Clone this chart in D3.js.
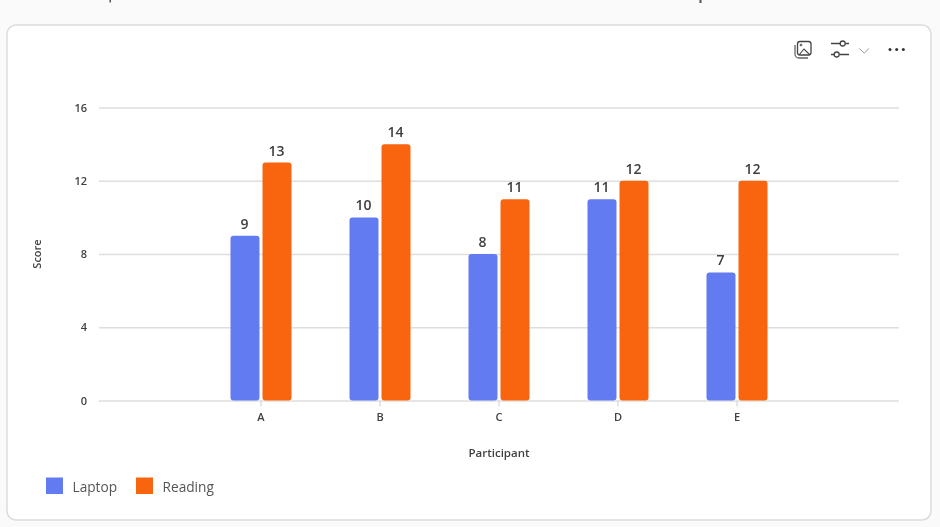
<!DOCTYPE html>
<html><head><meta charset="utf-8">
<script src="https://cdn.jsdelivr.net/npm/d3@7/dist/d3.min.js"></script>
<style>html,body{margin:0;padding:0;background:#fafafa;overflow:hidden}svg{display:block;filter:blur(0.35px)}text{font-family:"Open Sans","Noto Sans",sans-serif}</style>
</head><body><svg id="c" width="940" height="527"></svg>
<script>
const categories = ["A","B","C","D","E"];
const seriesNames = ["Laptop","Reading"];
const laptop = [9,10,8,11,7];
const reading = [13,14,11,12,12];
const yTicks = [0,4,8,12,16];
const colors = ["#637bf0","#f9640e"];
const textColor = "#3f3f3f";

const svg = d3.select("#c");
// clipped text remnants above the card
svg.append("rect").attr("x",109.5).attr("y",0).attr("width",1.5).attr("height",2.5).attr("fill","#555");
svg.append("rect").attr("x",699.5).attr("y",0).attr("width",2).attr("height",3).attr("fill","#555");
// card
svg.append("rect").attr("x",7).attr("y",25).attr("width",924).attr("height",495).attr("rx",9)
  .attr("fill","#fff").attr("stroke","#dcdcdc").attr("stroke-width",1.5);

const x = d3.scaleBand().domain(categories).range([201.5,796.5]);
const xs = d3.scaleBand().domain(seriesNames).range([0,x.bandwidth()]).paddingInner(0.094).paddingOuter(0.906);
const y = d3.scaleLinear().domain([0,16]).range([400.6,107.6]);

// gridlines and y labels
const yAxis = d3.axisLeft(y).tickValues(yTicks).tickSize(0).tickPadding(12);
const gy = svg.append("g").attr("transform","translate(99,0)").call(yAxis);
gy.select(".domain").remove();
gy.selectAll(".tick text").attr("font-size",11).attr("font-weight",600).attr("fill",textColor);
gy.selectAll(".tick").append("line").attr("x1",0).attr("x2",800).attr("stroke","#dedede").attr("stroke-width",1.5);

// x axis
const xAxis = d3.axisBottom(x).tickSize(6).tickPadding(7);
const gx = svg.append("g").attr("transform","translate(0,400.6)").call(xAxis);
gx.select(".domain").remove();
gx.selectAll(".tick line").attr("stroke","#dedede").attr("stroke-width",1.5);
gx.selectAll(".tick text").attr("font-size",11).attr("font-weight",600).attr("fill",textColor);

// bars
const series = [laptop, reading];
series.forEach((vals,si)=>{
  const name = seriesNames[si];
  const g = svg.append("g");
  const bw = xs.bandwidth();
  g.selectAll("path").data(vals).join("path")
    .attr("fill",colors[si])
    .attr("d",(v,i)=>{
      const p = d3.path();
      const x0 = x(categories[i])+xs(name), x1 = x0+bw, yt = y(v), yb = y(0), r = 3;
      p.moveTo(x0,yt+r); p.quadraticCurveTo(x0,yt,x0+r,yt); p.lineTo(x1-r,yt);
      p.quadraticCurveTo(x1,yt,x1,yt+r); p.lineTo(x1,yb-r); p.quadraticCurveTo(x1,yb,x1-r,yb);
      p.lineTo(x0+r,yb); p.quadraticCurveTo(x0,yb,x0,yb-r); p.closePath();
      return p.toString();
    });
  g.selectAll("text").data(vals).join("text")
    .attr("x",(v,i)=>x(categories[i])+xs(name)+bw/2-0.5)
    .attr("y",v=>y(v)-7)
    .attr("text-anchor","middle").attr("font-size",14).attr("font-weight",600).attr("fill",textColor)
    .text(v=>v);
});

// axis titles
svg.append("text").attr("x",499).attr("y",457).attr("text-anchor","middle")
  .attr("font-size",11.5).attr("font-weight",600).attr("fill",textColor).text("Participant");
svg.append("text").attr("transform","translate(41,254) rotate(-90)").attr("text-anchor","middle")
  .attr("font-size",11).attr("font-weight",600).attr("fill",textColor).text("Score");

// legend
const legX = d3.scaleOrdinal().domain(seriesNames).range([46,136]);
const leg = svg.append("g").selectAll("g").data(seriesNames).join("g")
  .attr("transform",d=>`translate(${legX(d)},477.5)`);
leg.append("rect").attr("width",17).attr("height",16.5).attr("fill",(d,i)=>colors[i]);
leg.append("text").attr("x",26.5).attr("y",14.5).attr("font-size",13.7).attr("fill","#555").text(d=>d);

// toolbar icons
const ic = svg.append("g").attr("fill","none").attr("stroke","#444").attr("stroke-width",1.3);
ic.append("rect").attr("x",797.5).attr("y",41.5).attr("width",13.5).attr("height",13.5).attr("rx",2.5);
ic.append("path").attr("d","M795 45 v9 a4 4 0 0 0 4 4 h9").attr("stroke","#666");
ic.append("path").attr("d","M799 55 l5 -6 l6 6").attr("stroke-width",1.1);
ic.append("circle").attr("cx",801).attr("cy",45).attr("r",0.9).attr("stroke-width",1);
ic.append("path").attr("d","M831 43.5 H840 M845.5 43.5 H849 M831 54.5 H834 M839.5 54.5 H849");
ic.append("circle").attr("cx",842.7).attr("cy",43.5).attr("r",2.5);
ic.append("circle").attr("cx",836.7).attr("cy",54.5).attr("r",2.5);
ic.append("path").attr("d","M859.5 48.5 l4.7 4.7 l4.7 -4.7").attr("stroke","#999").attr("stroke-width",1);
svg.append("g").selectAll("circle").data([890,896.7,903.3]).join("circle")
  .attr("cx",d=>d).attr("cy",49.4).attr("r",1.5).attr("fill","#333");
</script></body></html>
